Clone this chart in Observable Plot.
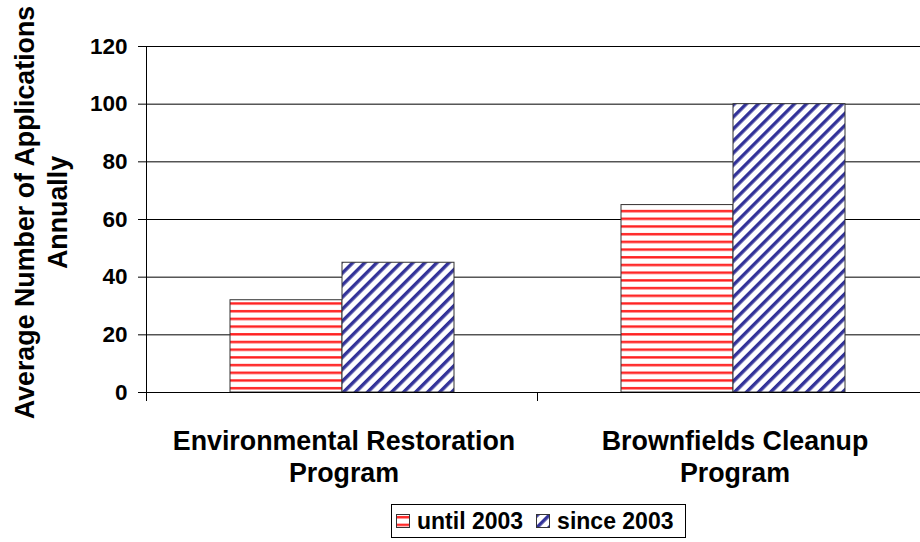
<!DOCTYPE html>
<html>
<head>
<meta charset="utf-8">
<script src="https://cdn.jsdelivr.net/npm/d3@7"></script>
<script src="https://cdn.jsdelivr.net/npm/@observablehq/plot@0.6"></script>
<style>
  html, body { margin: 0; padding: 0; background: #fff; }
  body { width: 920px; height: 542px; position: relative; overflow: hidden; font-family: "Liberation Sans", Arial, sans-serif; }
  #legend { position: absolute; left: 391px; top: 504px; width: 295px; height: 34px; box-sizing: border-box;
    border: 1px solid #000; display: flex; align-items: center; font-weight: bold; font-size: 23px; color: #000; }
  #legend svg { flex: none; }
</style>
</head>
<body>
<svg width="0" height="0" style="position:absolute">
  <defs>
    <pattern id="redH" patternUnits="userSpaceOnUse" width="8" height="7.7">
      <rect width="8" height="7.7" fill="#fff"/>
      <rect y="2" width="8" height="2.4" fill="#ff2020"/>
    </pattern>
    <pattern id="blueD" patternUnits="userSpaceOnUse" width="8.5" height="8.5" patternTransform="rotate(45)">
      <rect width="8.5" height="8.5" fill="#fff"/>
      <rect width="3.4" height="8.5" fill="#333399"/>
    </pattern>
  </defs>
</svg>
<div id="chart"></div>
<div id="legend"></div>
<script>
const categories = ["Environmental Restoration Program", "Brownfields Cleanup Program"];
const categoryLabels = ["Environmental Restoration\nProgram", "Brownfields Cleanup\nProgram"];
const series = ["until 2003", "since 2003"];
const until2003 = [32, 65];
const since2003 = [45, 100];
const yTicks = [0, 20, 40, 60, 80, 100, 120];
const yTitle = "Average Number of Applications\nAnnually";

const data = categories.flatMap((c, i) => [
  {category: c, series: series[0], value: until2003[i]},
  {category: c, series: series[1], value: since2003[i]}
]);
const fills = {"until 2003": "url(#redH)", "since 2003": "url(#blueD)"};

const W = 920, H = 500, mTop = 46, mBottom = 108, mLeft = 146;
const plotH = H - mTop - mBottom;

const chart = Plot.plot({
  width: W,
  height: H,
  marginTop: mTop,
  marginBottom: mBottom,
  marginLeft: mLeft,
  marginRight: -8,
  style: {fontFamily: "'Liberation Sans', Arial, sans-serif", color: "#000", background: "#fff"},
  fx: {domain: categories, padding: 0, axis: null},
  x: {domain: series, paddingInner: 0, paddingOuter: 0.745, axis: null},
  y: {domain: [0, 120], axis: null},
  marks: [
    Plot.gridY(yTicks, {stroke: "#000", strokeOpacity: 1, strokeWidth: 1}),
    ...series.map(s => Plot.barY(data.filter(d => d.series === s), {
      fx: "category", x: "series", y: "value",
      fill: fills[s], stroke: "#333", strokeWidth: 1
    })),
    Plot.ruleY([0], {stroke: "#000"}),
    Plot.frame({anchor: "left", facetAnchor: "left", stroke: "#000"}),
    Plot.frame({anchor: "left", insetTop: plotH, insetBottom: -8, stroke: "#000"}),
    Plot.axisY(yTicks, {tickSize: 8, tickPadding: 11, fontSize: 22.5, fontWeight: "bold", label: null, stroke: "#000", fill: "#000", facetAnchor: "left"}),
    Plot.text(categories, {
      fx: d => d, text: (d, i) => categoryLabels[i],
      frameAnchor: "bottom", lineAnchor: "top", dy: 34, dx: 2,
      fontSize: 26.8, fontWeight: "bold", lineHeight: 1.22, fill: "#000"
    }),
    Plot.text([yTitle], {
      text: d => d, frameAnchor: "left", textAnchor: "middle", rotate: -90, lineAnchor: "middle",
      dx: -107, dy: -7, fontSize: 26.8, fontWeight: "bold", lineHeight: 1.24, fill: "#000",
      facetAnchor: "left"
    })
  ]
});
document.getElementById("chart").appendChild(chart);

// legend
const legend = document.getElementById("legend");
series.forEach((s, i) => {
  const sw = document.createElementNS("http://www.w3.org/2000/svg", "svg");
  sw.setAttribute("width", 14); sw.setAttribute("height", 14);
  sw.style.marginLeft = i === 0 ? "4px" : "13px";
  sw.style.marginRight = "7px";
  const r = document.createElementNS("http://www.w3.org/2000/svg", "rect");
  r.setAttribute("x", 0.5); r.setAttribute("y", 0.5);
  r.setAttribute("width", 13); r.setAttribute("height", 13);
  r.setAttribute("fill", fills[s]); r.setAttribute("stroke", "#333");
  sw.appendChild(r);
  legend.appendChild(sw);
  const t = document.createElement("span");
  t.textContent = s;
  legend.appendChild(t);
});
</script>
</body>
</html>
